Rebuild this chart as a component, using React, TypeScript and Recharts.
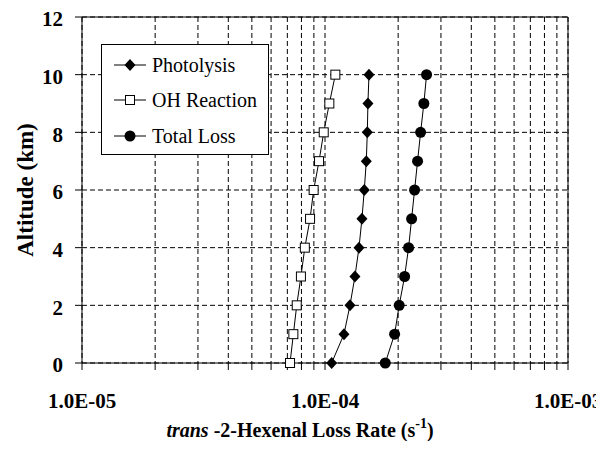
import React from 'react';
import { ScatterChart, Scatter, XAxis, YAxis, CartesianGrid, ReferenceLine } from 'recharts';

const altitudes = [0, 1, 2, 3, 4, 5, 6, 7, 8, 9, 10];
const photolysisRates = [1.065e-4, 1.197e-4, 1.267e-4, 1.328e-4, 1.38e-4, 1.419e-4, 1.451e-4, 1.479e-4, 1.493e-4, 1.502e-4, 1.517e-4];
const ohRates = [7.18e-5, 7.41e-5, 7.65e-5, 7.96e-5, 8.26e-5, 8.68e-5, 8.98e-5, 9.45e-5, 9.88e-5, 1.042e-4, 1.103e-4];
const totalRates = [1.77e-4, 1.934e-4, 2.02e-4, 2.126e-4, 2.208e-4, 2.272e-4, 2.337e-4, 2.404e-4, 2.474e-4, 2.552e-4, 2.618e-4];

const xTicks = [
  1e-5, 2e-5, 3e-5, 4e-5, 5e-5, 6e-5, 7e-5, 8e-5, 9e-5,
  1e-4, 2e-4, 3e-4, 4e-4, 5e-4, 6e-4, 7e-4, 8e-4, 9e-4,
  1e-3,
];
const xTickLabels: Record<string, string> = {
  '0.00001': '1.0E-05',
  '0.0001': '1.0E-04',
  '0.001': '1.0E-03',
};
const yTicks = [0, 2, 4, 6, 8, 10, 12];

const FONT = 'Liberation Serif, Tinos, Times New Roman, Times, serif';

const toPoints = (rates: number[]) => altitudes.map((alt, i) => ({ x: rates[i], y: alt }));

const Diamond = (p: any) => (
  <path
    d={`M${p.cx},${p.cy - 6} L${p.cx + 5.5},${p.cy} L${p.cx},${p.cy + 6} L${p.cx - 5.5},${p.cy} Z`}
    fill="#000"
  />
);
const Square = (p: any) => (
  <rect x={p.cx - 4.5} y={p.cy - 4.5} width={9} height={9} fill="#fff" stroke="#000" strokeWidth={1} />
);
const Dot = (p: any) => <circle cx={p.cx} cy={p.cy} r={5.5} fill="#000" />;

const series = [
  { name: 'Photolysis', data: toPoints(photolysisRates), shape: Diamond },
  { name: 'OH Reaction', data: toPoints(ohRates), shape: Square },
  { name: 'Total Loss', data: toPoints(totalRates), shape: Dot },
];

const LegendBox = () => (
  <div
    style={{
      position: 'absolute',
      left: 93,
      top: 36,
      border: '1px solid #000',
      background: '#fff',
      width: 166,
      height: 107,
      paddingTop: 2,
      fontFamily: FONT,
      fontSize: 20,
    }}
  >
    {series.map((s) => {
      const Shape = s.shape;
      return (
        <div key={s.name} style={{ display: 'flex', alignItems: 'center', height: 35.5 }}>
          <svg width={50} height={20} style={{ flex: 'none' }}>
            <line x1={12} x2={44} y1={10} y2={10} stroke="#000" strokeWidth={1} />
            <Shape cx={28} cy={10} />
          </svg>
          <span style={{ lineHeight: 1 }}>{s.name}</span>
        </div>
      );
    })}
  </div>
);

const XLabel = () => (
  <text x={292} y={429} textAnchor="middle" fontFamily={FONT} fontSize={20} fontWeight="bold" fill="#000">
    <tspan fontStyle="italic">trans</tspan>
    <tspan> -2-Hexenal Loss Rate (s</tspan>
    <tspan fontSize={14} dy={-9}>-1</tspan>
    <tspan dy={9}>)</tspan>
  </text>
);

const YLabel = () => (
  <text
    x={25}
    y={182}
    transform="rotate(-90, 25, 182)"
    textAnchor="middle"
    fontFamily={FONT}
    fontSize={23}
    fontWeight="bold"
    fill="#000"
  >
    Altitude (km)
  </text>
);

const tickStyle = { fill: '#000', fontSize: 21, fontWeight: 'bold', fontFamily: FONT };

export default function App() {
  return (
    <div style={{ position: 'relative', width: 596, height: 433 }}>
      <ScatterChart width={596} height={433} margin={{ top: 9, right: 36, bottom: 18, left: 14 }}>
        <CartesianGrid stroke="#000" strokeDasharray="5 3" strokeWidth={1} />
        <XAxis
          type="number"
          dataKey="x"
          scale="log"
          domain={[1e-5, 1e-3]}
          allowDataOverflow
          ticks={xTicks}
          interval={0}
          height={60}
          tickSize={7}
          tickMargin={23}
          tick={tickStyle}
          tickFormatter={(v: number) => xTickLabels[String(v)] ?? ''}
          axisLine={{ stroke: '#000' }}
          tickLine={{ stroke: '#000' }}
          label={{ content: XLabel }}
        />
        <YAxis
          type="number"
          dataKey="y"
          domain={[0, 12]}
          ticks={yTicks}
          interval={0}
          width={60}
          tickSize={7}
          tickMargin={12}
          tick={{ ...tickStyle, dy: 2 }}
          axisLine={{ stroke: '#000' }}
          tickLine={{ stroke: '#000' }}
          label={{ content: YLabel }}
        />
        <ReferenceLine y={12} stroke="#000" strokeWidth={1} />
        <ReferenceLine x={1e-3} stroke="#000" strokeWidth={1} />
        {series.map((s) => (
          <Scatter
            key={s.name}
            name={s.name}
            data={s.data}
            fill="#000"
            line={{ stroke: '#000', strokeWidth: 1 }}
            shape={s.shape}
            isAnimationActive={false}
          />
        ))}
      </ScatterChart>
      <LegendBox />
    </div>
  );
}
